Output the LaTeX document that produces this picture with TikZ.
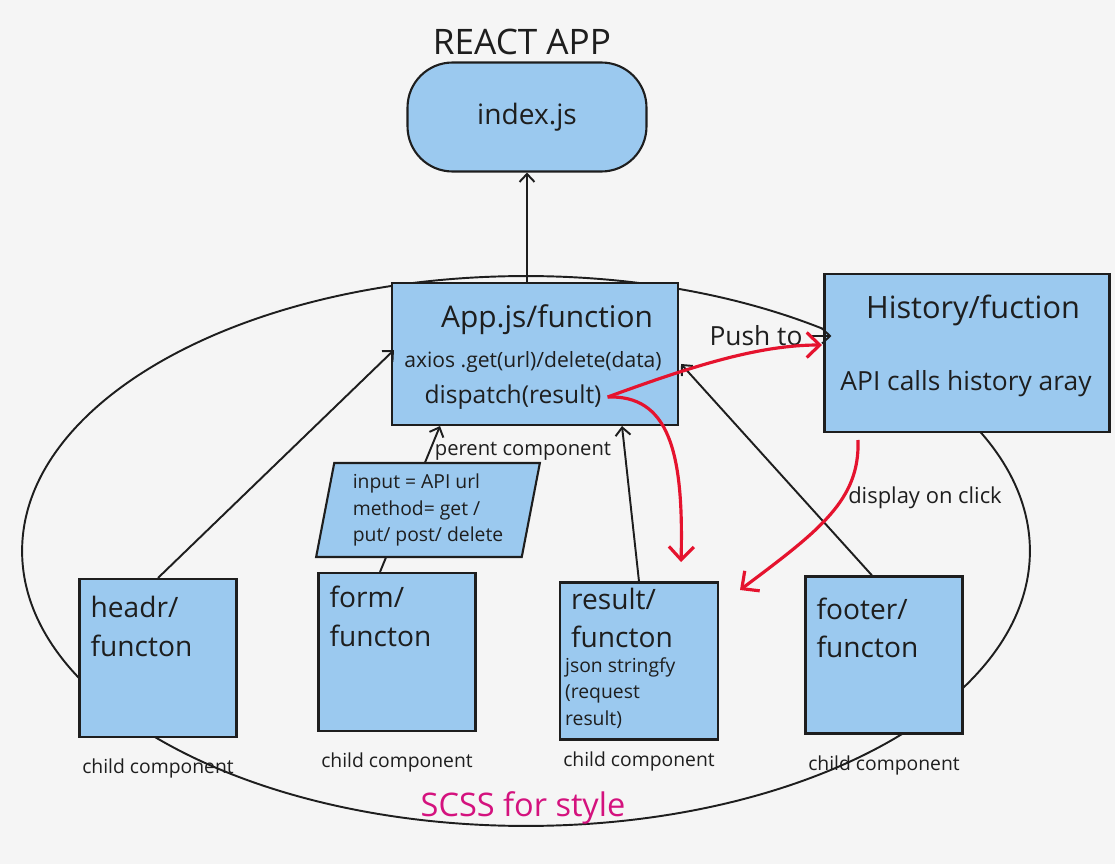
\documentclass[tikz,border=0pt]{standalone}
\usepackage{fontspec}
\setmainfont{Open Sans}
\usepackage{tikz}
\usetikzlibrary{arrows.meta,positioning,shapes.geometric,calc}
\definecolor{boxblue}{HTML}{9BC9EF}
\definecolor{ink}{HTML}{1E1E1E}
\definecolor{redline}{HTML}{E5132E}
\definecolor{scss}{HTML}{D4127E}
\definecolor{paper}{HTML}{F5F5F5}

\begin{document}
\begin{tikzpicture}[
    x=0.02cm, y=-0.02cm,
    node distance=2mm,
    box/.style={draw=ink,line width=1.2pt,fill=boxblue,inner sep=0pt},
    big/.style={font=\fontsize{16}{22}\selectfont,text=ink,align=left},
    mid/.style={font=\fontsize{11}{15}\selectfont,text=ink},
    small/.style={font=\fontsize{11}{15}\selectfont,text=ink,align=left},
    arrow/.style={-{Straight Barb[length=1.6mm,width=3mm]},line width=1.1pt,color=ink},
    redarrow/.style={-{Straight Barb[length=2.6mm,width=5mm]},line width=1.8pt,color=redline}
  ]
    \fill[paper] (0,0) rectangle (1115,864);
    \useasboundingbox (0,0) rectangle (1115,864);

    % big scss ellipse round the components
    \draw[ink,line width=1.1pt] (526,551) ellipse [x radius=10.08cm, y radius=5.5cm];

    \node[big,font=\fontsize{20}{22}\selectfont] (title) at (522,42) {REACT APP};
    \node[box,rounded corners=0.9cm,minimum width=4.78cm,minimum height=2.18cm,big,font=\fontsize{16}{20}\selectfont] (idx) at (527,117) {index.js};

    \node[box,minimum width=5.72cm,minimum height=2.84cm] (app) at (535,354) {};
    \node[big,font=\fontsize{17}{20}\selectfont] (apptitle) at (547,320) {App.js/function};
    \node[mid,font=\fontsize{12}{15}\selectfont] (axios) at (533,362) {axios .get(url)/delete(data)};
    \node[mid,font=\fontsize{14}{15}\selectfont] (disp) at (513,397) {dispatch(result)};

    \node[box,minimum width=5.7cm,minimum height=3.16cm] (hist) at (967,353) {};
    \node[big,font=\fontsize{17.5}{20}\selectfont] (histtitle) at (973,310) {History/fuction};
    \node[mid,font=\fontsize{15}{15}\selectfont] (histsub) at (966,384) {API calls history aray};

    % child components
    \node[box,minimum width=3.14cm,minimum height=3.16cm] (head) at (158,658) {};
    \node[box,minimum width=3.14cm,minimum height=3.16cm] (form) at (397,652) {};
    \node[box,minimum width=3.16cm,minimum height=3.14cm] (result) at (639,661) {};
    \node[box,minimum width=3.14cm,minimum height=3.14cm] (footer) at (884,655) {};

    \node[big,anchor=north west] (headtxt) at ($(head.north west)+(6,12)$) {headr/\\functon};
    \node[big,anchor=north west] (formtxt) at ($(form.north west)+(6,8)$) {form/\\functon};
    \node[big,anchor=north west] (resulttxt) at ($(result.north west)+(6,0)$) {result/\\functon};
    \node[small,anchor=north west] (resultsub) at ($(result.north west)+(0,70)$) {json stringfy\\(request\\result)};
    \node[big,anchor=north west] (footertxt) at ($(footer.north west)+(6,16)$) {footer/\\functon};

    \node[mid,below=3mm of head] (headlbl) {child component};
    \node[mid,below=3mm of form] (formlbl) {child component};
    \node[mid,below=1mm of result] (resultlbl) {child component};
    \node[mid,below=3mm of footer] (footerlbl) {child component};

    \draw[arrow] (idx.south |- app.north) -- (idx.south);
    \draw[arrow] (head.north) -- ($(app.west)+(3,-4)$);
    \draw[arrow] ($(form.north)+(-17,0)$) -- ($(app.south)+(-95,0)$);
    \draw[arrow] (result.north) -- ($(app.south)+(87,0)$);
    \draw[arrow] ($(footer.north)+(-12,0)$) -- ($(app.east)+(2,10)$);

    \node[box,trapezium,trapezium left angle=78.6,trapezium right angle=101.4,
          trapezium stretches=true,minimum width=4.48cm,minimum height=1.88cm,small] (inp) at (428,510)
          {input = API url\\method= get /\\put/ post/ delete};
    \node[mid,font=\fontsize{11.5}{15}\selectfont] (parent) at (523,451) {perent component};

    \node[mid,font=\fontsize{15}{15}\selectfont] (push) at (756,336) {Push to};
    \draw[arrow] (push.east) -- ($(push.east -| hist.west)+(8,0)$);
    \node[mid,font=\fontsize{12.5}{15}\selectfont] (click) at (925,498) {display on click};

    \coordinate (hin) at (822,345);
    \coordinate (rtop) at (681,562);
    \coordinate (hbot) at (858,440);
    \coordinate (rside) at (740,590);
    \draw[redarrow] (disp.east) .. controls (695,365) and (760,345) .. (hin);
    \draw[redarrow] (disp.east) .. controls (668,395) and (684,450) .. (rtop);
    \draw[redarrow] (hbot) .. controls (860,500) and (820,530) .. (rside);

    \node[font=\fontsize{18.5}{20}\selectfont,text=scss] (scsslbl) at (523,808) {SCSS for style};
  \end{tikzpicture}
\end{document}
